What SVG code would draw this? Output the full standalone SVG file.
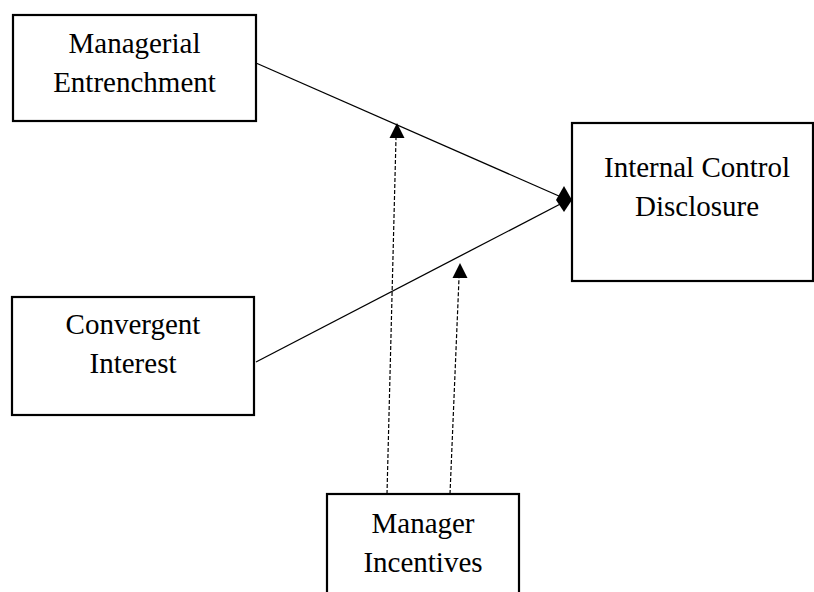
<svg xmlns="http://www.w3.org/2000/svg" width="814" height="592" viewBox="0 0 814 592">
<style>
.box{fill:#fff;stroke:#000;stroke-width:2.2}
.t{font-family:"Liberation Serif","Times New Roman",serif;font-size:29px;fill:#000;text-anchor:middle}
.ln{stroke:#000;stroke-width:1.3;fill:none}
.ds{stroke:#000;stroke-width:1.2;fill:none;stroke-dasharray:4,2}
.head{fill:#000}
</style>
<rect width="814" height="592" fill="#fff"/>
<g id="connectors">
<line class="ln" x1="256" y1="63" x2="568" y2="200"/>
<line class="ln" x1="256" y1="362" x2="568" y2="200"/>
<path class="head" d="M564,186 L572,200 L564,212 L556,200 Z"/>
<line class="ds" x1="387" y1="494" x2="396" y2="138"/>
<path class="head" d="M397,123 L404.5,138 L389.5,138 Z"/>
<line class="ds" x1="450" y1="494" x2="459" y2="278"/>
<path class="head" d="M460,263 L467.5,278 L452.5,278 Z"/>
</g>
<g id="managerial-entrenchment">
<rect class="box" x="13" y="15" width="243" height="106"/>
<text class="t" x="134.5" y="53">Managerial</text>
<text class="t" x="134.5" y="92">Entrenchment</text>
</g>
<g id="internal-control-disclosure">
<rect class="box" x="572" y="123" width="241" height="158"/>
<text class="t" x="697" y="177">Internal Control</text>
<text class="t" x="697" y="216">Disclosure</text>
</g>
<g id="convergent-interest">
<rect class="box" x="12" y="297" width="242" height="118"/>
<text class="t" x="133" y="334">Convergent</text>
<text class="t" x="133" y="373">Interest</text>
</g>
<g id="manager-incentives">
<rect class="box" x="327" y="494" width="192" height="110"/>
<text class="t" x="423" y="533">Manager</text>
<text class="t" x="423" y="572">Incentives</text>
</g>
</svg>
